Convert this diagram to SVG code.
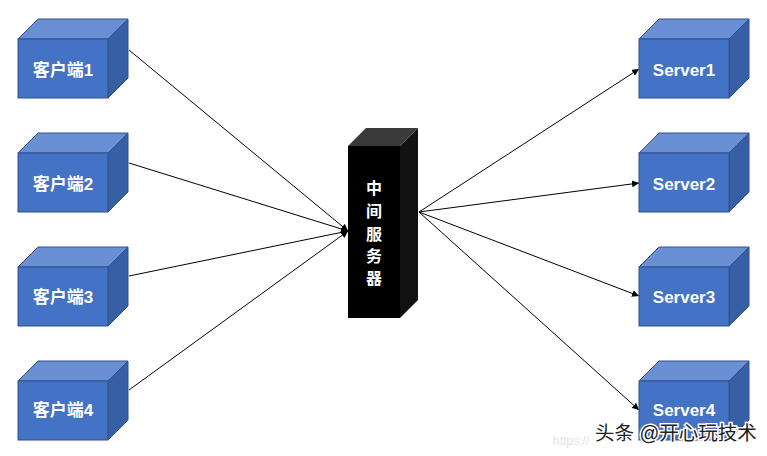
<svg xmlns="http://www.w3.org/2000/svg" width="767" height="456" viewBox="0 0 767 456">
<defs>
<style>
.front{fill:#4472C4;stroke:#2F528F;stroke-width:1}
.top{fill:#6A8FD3;stroke:#2F528F;stroke-width:1}
.side{fill:#375FA6;stroke:#2F528F;stroke-width:1}
.lbl{font-family:"Liberation Sans","Noto Sans CJK SC",sans-serif;font-size:17px;font-weight:bold;fill:#fff;text-anchor:middle}
.conn{stroke:#000;stroke-width:1;fill:none;marker-end:url(#arr)}
</style>
<marker id="arr" viewBox="0 0 10 10" refX="10" refY="5" markerWidth="7" markerHeight="7" orient="auto" markerUnits="userSpaceOnUse">
<path d="M0,0 L10,5 L0,10 z" fill="#000"/>
</marker>
<g id="cube">
<path class="top" d="M0,20 L20,0 L110,0 L90,20 z"/>
<path class="side" d="M90,20 L110,0 L110,59 L90,79 z"/>
<rect class="front" x="0" y="20" width="90" height="59"/>
</g>
</defs>
<rect width="767" height="456" fill="#fff"/>
<g id="connectors">
<line class="conn" x1="129" y1="50" x2="348" y2="231"/>
<line class="conn" x1="129" y1="163" x2="348" y2="231"/>
<line class="conn" x1="129" y1="276" x2="348" y2="231"/>
<line class="conn" x1="129" y1="390" x2="348" y2="231"/>
<line class="conn" x1="419" y1="212" x2="639" y2="69"/>
<line class="conn" x1="419" y1="212" x2="639" y2="183"/>
<line class="conn" x1="419" y1="212" x2="639" y2="296"/>
<line class="conn" x1="419" y1="212" x2="639" y2="410"/>
</g>
<g id="client1"><use href="#cube" x="18" y="19"/><text class="lbl" x="63" y="76">客户端1</text></g>
<g id="client2"><use href="#cube" x="18" y="133"/><text class="lbl" x="63" y="190">客户端2</text></g>
<g id="client3"><use href="#cube" x="18" y="247"/><text class="lbl" x="63" y="303">客户端3</text></g>
<g id="client4"><use href="#cube" x="18" y="361"/><text class="lbl" x="63" y="416">客户端4</text></g>
<g id="server1"><use href="#cube" x="639" y="19"/><text class="lbl" x="684" y="76">Server1</text></g>
<g id="server2"><use href="#cube" x="639" y="133"/><text class="lbl" x="684" y="190">Server2</text></g>
<g id="server3"><use href="#cube" x="639" y="247"/><text class="lbl" x="684" y="303">Server3</text></g>
<g id="server4"><use href="#cube" x="639" y="361"/><text class="lbl" x="684" y="416">Server4</text></g>
<g id="middle">
<path d="M348,146 L366,128 L418,128 L400,146 z" fill="#3a3a3a"/>
<path d="M400,146 L418,128 L418,300 L400,318 z" fill="#111"/>
<rect x="348" y="146" width="52" height="172" fill="#000"/>
<g class="lbl" style="font-size:16px">
<text x="374" y="194">中</text>
<text x="374" y="217">间</text>
<text x="374" y="240">服</text>
<text x="374" y="262">务</text>
<text x="374" y="284">器</text>
</g>
</g>
<text x="553" y="445" font-family="Liberation Sans,sans-serif" font-size="12" fill="#e4e4e4">https://</text>
<text x="595" y="440" font-family="Liberation Sans,'Noto Sans CJK SC',sans-serif" font-size="19.5" fill="#222" stroke="#fff" stroke-width="3" paint-order="stroke">头条 @开心玩技术</text>
</svg>
